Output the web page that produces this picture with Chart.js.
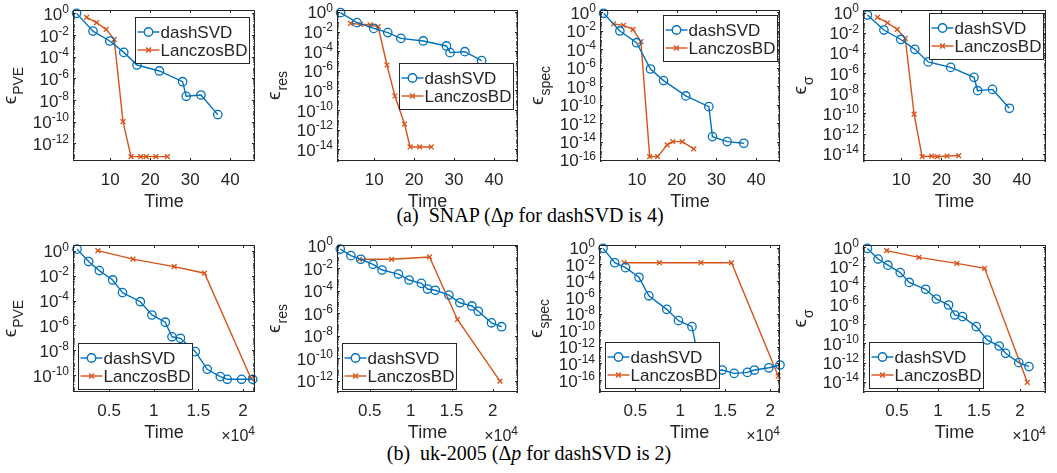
<!DOCTYPE html>
<html>
<head>
<meta charset="utf-8">
<script src="https://cdn.jsdelivr.net/npm/chart.js@4.4.1/dist/chart.umd.min.js"></script>
<style>
  body { margin: 0; background: #fff; }
  #fig { position: relative; width: 1057px; height: 473px; overflow: hidden; background: #fff; }
  canvas { position: absolute; }
  .cap { position: absolute; font-family: "Liberation Serif", "DejaVu Serif", serif; font-size: 20px;
         color: #000; white-space: nowrap; transform: translate(-50%, -50%); }
</style>
</head>
<body>
<div id="fig">
  <div class="cap" style="left:530px;top:215px">(a)&nbsp; SNAP (Δ<i>p</i> for dashSVD is 4)</div>
  <div class="cap" style="left:529px;top:453px">(b)&nbsp; uk-2005 (Δ<i>p</i> for dashSVD is 2)</div>
</div>
<script>
// SNAP: run times (s)
const snapDashT = [1.6, 5.7, 9.9, 13.4, 16.7, 22.3, 28.1, 29.0, 32.7, 36.9];
const snapLancT = [4.1, 6.6, 9.0, 11.0, 13.2, 15.2, 17.6, 19.0, 21.4, 24.3];
// SNAP: errors
const snapDashPVE = [1.0, 2.3e-2, 2.8e-3, 2.5e-4, 1.7e-5, 4.8e-6, 4.9e-7, 2.2e-8, 2.9e-8, 4.5e-10];
const snapLancPVE = [4.3e-1, 1.4e-1, 3.3e-2, 4.0e-3, 1.0e-10, 5.9e-14, 5.9e-14, 5.9e-14, 5.9e-14, 5.9e-14];
const snapDashRes = [8.5e-1, 8.1e-2, 2.1e-2, 7.9e-3, 2.0e-3, 1.1e-3, 3.4e-4, 7.1e-5, 8.9e-5, 1.1e-5];
const snapLancRes = [6.9e-2, 5.5e-2, 4.7e-2, 3.2e-2, 3.9e-6, 2.7e-9, 3.7e-12, 1.7e-14, 1.7e-14, 1.7e-14];
const snapDashSpec = [7.8e-1, 9.5e-3, 5.1e-4, 7.2e-7, 4.0e-8, 8.7e-10, 6.0e-11, 3.4e-14, 9.8e-15, 6.5e-15];
const snapLancSpec = [5.5e-2, 3.9e-2, 1.4e-2, 6.6e-4, 2.3e-16, 2.3e-16, 4.3e-15, 9.8e-15, 9.8e-15, 1.6e-15];
const snapDashSig = [5.9e-1, 1.9e-2, 2.2e-3, 2.3e-4, 1.3e-5, 3.7e-6, 3.8e-7, 1.8e-8, 2.4e-8, 3.2e-10];
const snapLancSig = [3.5e-1, 1.0e-1, 2.2e-2, 2.8e-3, 8.5e-11, 5.0e-15, 5.8e-15, 5.0e-15, 5.8e-15, 6.3e-15];

// uk-2005: run times (s)
const ukDashT = [1400, 2700, 3900, 5400, 6500, 8500, 9800, 11300, 12050, 13000, 14670, 16000, 17470, 18250, 19860, 21100];
const ukLancT = [3740, 7680, 12300, 15700, 20900];
// uk-2005: errors
const ukDashPVE = [1.4, 1.4e-1, 2.6e-2, 4.6e-3, 4.4e-4, 8.1e-5, 6.9e-6, 1.8e-6, 1.2e-7, 9.1e-8, 7.6e-9, 2.9e-10, 7.4e-11, 4.5e-11, 4.5e-11, 4.5e-11];
const ukLancPVE = [1.07, 2.2e-1, 5.5e-2, 1.6e-2, 5.4e-11];
const ukDashRes = [5.0e-1, 1.3e-1, 6.2e-2, 2.2e-2, 6.9e-3, 3.0e-3, 8.9e-4, 4.5e-4, 1.4e-4, 1.1e-4, 4.1e-5, 8.5e-6, 4.4e-6, 1.5e-6, 1.4e-7, 6.3e-8];
const ukLancRes = [6.2e-2, 6.2e-2, 1.0e-1, 2.8e-7, 9.3e-13];
const ukDashSpec = [8.3e-1, 1.5e-2, 3.8e-3, 2.6e-4, 1.5e-6, 3.5e-8, 1.5e-9, 2.8e-10, 3.2e-14, 1.0e-15, 1.6e-15, 6.3e-16, 8.3e-16, 1.6e-15, 3.0e-15, 6.5e-15];
const ukLancSpec = [1.5e-2, 1.5e-2, 1.5e-2, 1.5e-2, 3.0e-16];
const ukDashSig = [7.2e-1, 5.6e-2, 1.3e-2, 2.2e-3, 2.1e-4, 4.1e-5, 4.0e-6, 9.5e-7, 8.7e-8, 5.9e-8, 5.4e-9, 2.2e-10, 5.2e-11, 9.1e-12, 9.8e-13, 3.8e-13];
const ukLancSig = [4.2e-1, 8.5e-2, 2.0e-2, 6.2e-3, 8.9e-15];

// ticks
const snapTimeTicks = [10, 20, 30, 40];
const ukTimeTicks = [5000, 10000, 15000, 20000];
const expTicks10 = [0, -2, -4, -6, -8, -10];
const expTicks12 = [0, -2, -4, -6, -8, -10, -12];
const expTicks14 = [0, -2, -4, -6, -8, -10, -12, -14];
const expTicks16 = [0, -2, -4, -6, -8, -10, -12, -14, -16];

const BLUE = '#0072BD', ORANGE = '#D95319', AX = '#262626';
const FONT = '"Liberation Sans", Arial, "DejaVu Sans", sans-serif';
const PAD_L = 72, PAD_T = 12, PAD_R = 10, PAD_B = 56;
const fig = document.getElementById('fig');

// box = [left, top, right, bottom] on the page, legend = [left, top] on the page
const plots = [
  { box: [73, 10, 255, 161], xr: [0.7, 46.2], yr: [-13.63, 0.31], sub: 'PVE', dashT: snapDashT, lancT: snapLancT,
    dash: snapDashPVE, lanc: snapLancPVE, xt: snapTimeTicks, yt: expTicks12, legend: [135, 17] },
  { box: [337, 10, 518, 161], xr: [0.7, 46], yr: [-15.2, 0.2], sub: 'res', dashT: snapDashT, lancT: snapLancT,
    dash: snapDashRes, lanc: snapLancRes, xt: snapTimeTicks, yt: expTicks14, legend: [399, 63] },
  { box: [600, 10, 780, 161], xr: [0.7, 46], yr: [-16.11, 0.25], sub: 'spec', dashT: snapDashT, lancT: snapLancT,
    dash: snapDashSpec, lanc: snapLancSpec, xt: snapTimeTicks, yt: expTicks16, legend: [663, 15] },
  { box: [863, 10, 1046, 161], xr: [0.5, 46], yr: [-14.73, 0.27], sub: 'σ', dashT: snapDashT, lancT: snapLancT,
    dash: snapDashSig, lanc: snapLancSig, xt: snapTimeTicks, yt: expTicks14, legend: [929, 13] },
  { box: [73, 245, 255, 392], xr: [950, 21360], yr: [-11.37, 0.48], sub: 'PVE', dashT: ukDashT, lancT: ukLancT,
    dash: ukDashPVE, lanc: ukLancPVE, xt: ukTimeTicks, yt: expTicks10, legend: [78, 343], exp4: true },
  { box: [337, 245, 518, 392], xr: [1000, 23100], yr: [-13.0, 0.06], sub: 'res', dashT: ukDashT, lancT: ukLancT,
    dash: ukDashRes, lanc: ukLancRes, xt: ukTimeTicks, yt: expTicks12, legend: [342, 343], exp4: true },
  { box: [599, 245, 780, 392], xr: [950, 21100], yr: [-17.45, 0.32], sub: 'spec', dashT: ukDashT, lancT: ukLancT,
    dash: ukDashSpec, lanc: ukLancSpec, xt: ukTimeTicks, yt: expTicks16, legend: [605, 342], exp4: true },
  { box: [863, 245, 1046, 392], xr: [860, 23180], yr: [-15.06, 0.21], sub: 'σ', dashT: ukDashT, lancT: ukLancT,
    dash: ukDashSig, lanc: ukLancSig, xt: ukTimeTicks, yt: expTicks14, legend: [869, 342], exp4: true },
];

function drawPower(ctx, xRight, baseY, exp, big, small) {
  ctx.font = big + 'px ' + FONT;
  const bw = ctx.measureText('10').width;
  ctx.font = small + 'px ' + FONT;
  const sw = ctx.measureText(exp).width;
  ctx.textAlign = 'left';
  ctx.fillText(exp, xRight - sw, baseY - 6.8);
  ctx.font = big + 'px ' + FONT;
  ctx.fillText('10', xRight - sw - bw, baseY);
}

function makePlot(p) {
  const w = p.box[2] - p.box[0], h = p.box[3] - p.box[1];
  const cv = document.createElement('canvas');
  cv.width = w + PAD_L + PAD_R;
  cv.height = h + PAD_T + PAD_B;
  cv.style.left = (p.box[0] - PAD_L) + 'px';
  cv.style.top = (p.box[1] - PAD_T) + 'px';
  fig.appendChild(cv);

  const decor = {
    id: 'matlabAxes',
    afterDatasetsDraw(chart) {
      const { ctx, chartArea: a, scales: { x, y } } = chart;
      ctx.save();
      ctx.strokeStyle = AX;
      ctx.fillStyle = AX;
      ctx.lineWidth = 1;
      // ticks
      ctx.beginPath();
      p.xt.forEach(v => {
        const px = Math.round(x.getPixelForValue(v)) + 0.5;
        ctx.moveTo(px, a.bottom); ctx.lineTo(px, a.bottom - 3);
        ctx.moveTo(px, a.top); ctx.lineTo(px, a.top + 3);
      });
      for (let e = Math.floor(p.yr[0]); e <= Math.ceil(p.yr[1]); e++) {
        for (let m = 1; m <= 9; m++) {
          const lv = e + Math.log10(m);
          if (lv < p.yr[0] || lv > p.yr[1]) continue;
          const len = (m === 1 && p.yt.includes(e)) ? 3 : 1.6;
          const py = Math.round(y.getPixelForValue(Math.pow(10, lv))) + 0.5;
          ctx.moveTo(a.left, py); ctx.lineTo(a.left + len, py);
          ctx.moveTo(a.right, py); ctx.lineTo(a.right - len, py);
        }
      }
      ctx.stroke();
      // box
      ctx.strokeRect(a.left + 0.5, a.top + 0.5, a.right - a.left - 1, a.bottom - a.top - 1);

      // x tick labels
      ctx.font = '17px ' + FONT;
      ctx.textAlign = 'center';
      ctx.textBaseline = 'alphabetic';
      p.xt.forEach(v => {
        const lab = p.exp4 ? String(v / 1e4) : String(v);
        ctx.fillText(lab, x.getPixelForValue(v), a.bottom + 24);
      });
      // y tick labels
      p.yt.forEach(e => {
        const py = y.getPixelForValue(Math.pow(10, e));
        drawPower(ctx, a.left - 4, py + 6.5, String(e), 17, 12);
      });
      // x title
      ctx.font = '18px ' + FONT;
      ctx.textAlign = 'center';
      ctx.fillText('Time', (a.left + a.right) / 2, a.bottom + 45.5);
      if (p.exp4) {
        ctx.font = '16px ' + FONT;
        const wx = ctx.measureText('×10').width;
        ctx.font = '12px ' + FONT;
        const w4 = ctx.measureText('4').width;
        ctx.textAlign = 'left';
        ctx.fillText('4', a.right - w4, a.bottom + 42.5);
        ctx.font = '16px ' + FONT;
        ctx.fillText('×10', a.right - w4 - wx, a.bottom + 49);
      }
      // y title: epsilon with subscript, rotated
      ctx.save();
      ctx.translate(a.left - 57, (a.top + a.bottom) / 2);
      ctx.rotate(-Math.PI / 2);
      ctx.font = '19px ' + FONT;
      const we = ctx.measureText('ϵ').width;
      ctx.font = '14px ' + FONT;
      const wsub = ctx.measureText(p.sub).width;
      const x0 = -(we + 1 + wsub) / 2;
      ctx.textAlign = 'left';
      ctx.font = '19px ' + FONT;
      ctx.fillText('ϵ', x0, 0);
      ctx.font = '14px ' + FONT;
      ctx.fillText(p.sub, x0 + we + 1, 6.5);
      ctx.restore();

      // legend
      const lx = p.legend[0] - (p.box[0] - PAD_L) + 0.5;
      const ly = p.legend[1] - (p.box[1] - PAD_T) + 0.5;
      const lw = 114, lh = 46;
      ctx.fillStyle = '#fff';
      ctx.fillRect(lx, ly, lw, lh);
      ctx.strokeStyle = AX;
      ctx.strokeRect(lx, ly, lw, lh);
      chart.data.datasets.forEach((ds, i) => {
        const ry = ly + (i === 0 ? 14.5 : 32.5);
        ctx.strokeStyle = ds.borderColor;
        ctx.lineWidth = 1.4;
        ctx.beginPath();
        ctx.moveTo(lx + 2, ry); ctx.lineTo(lx + 24, ry);
        ctx.stroke();
        Chart.helpers.drawPoint(ctx, {
          pointStyle: ds.pointStyle, radius: ds.pointRadius, borderWidth: ds.pointBorderWidth, rotation: 0
        }, lx + 13, ry);
        ctx.fillStyle = AX;
        ctx.font = '17px ' + FONT;
        ctx.textAlign = 'left';
        ctx.textBaseline = 'middle';
        ctx.fillText(ds.label, lx + 25, ry + 1);
        ctx.textBaseline = 'alphabetic';
      });
      ctx.restore();
    }
  };

  const pts = (ts, vs) => ts.map((t, i) => ({ x: t, y: vs[i] }));
  new Chart(cv, {
    type: 'line',
    data: {
      datasets: [
        { label: 'dashSVD', data: pts(p.dashT, p.dash), borderColor: BLUE, borderWidth: 1.4,
          pointStyle: 'circle', pointRadius: 4.2, pointBorderWidth: 1.3, pointBorderColor: BLUE,
          pointBackgroundColor: 'rgba(0,0,0,0)', backgroundColor: 'rgba(0,0,0,0)', tension: 0, clip: false },
        { label: 'LanczosBD', data: pts(p.lancT, p.lanc), borderColor: ORANGE, borderWidth: 1.4,
          pointStyle: 'crossRot', pointRadius: 3.4, pointBorderWidth: 1.3, pointBorderColor: ORANGE,
          pointBackgroundColor: ORANGE, backgroundColor: 'rgba(0,0,0,0)', tension: 0, clip: false }
      ]
    },
    options: {
      responsive: false, animation: false, events: [],
      layout: { padding: { top: PAD_T, right: PAD_R, left: 0, bottom: 0 } },
      plugins: { legend: { display: false }, tooltip: { enabled: false } },
      scales: {
        x: { type: 'linear', min: p.xr[0], max: p.xr[1],
             grid: { display: false, drawTicks: false }, border: { display: false }, ticks: { display: false },
             afterFit(s) { s.height = PAD_B; } },
        y: { type: 'logarithmic', min: Math.pow(10, p.yr[0]), max: Math.pow(10, p.yr[1]),
             grid: { display: false, drawTicks: false }, border: { display: false }, ticks: { display: false },
             afterFit(s) { s.width = PAD_L; } }
      }
    },
    plugins: [decor]
  });
}

plots.forEach(makePlot);
</script>
</body>
</html>
